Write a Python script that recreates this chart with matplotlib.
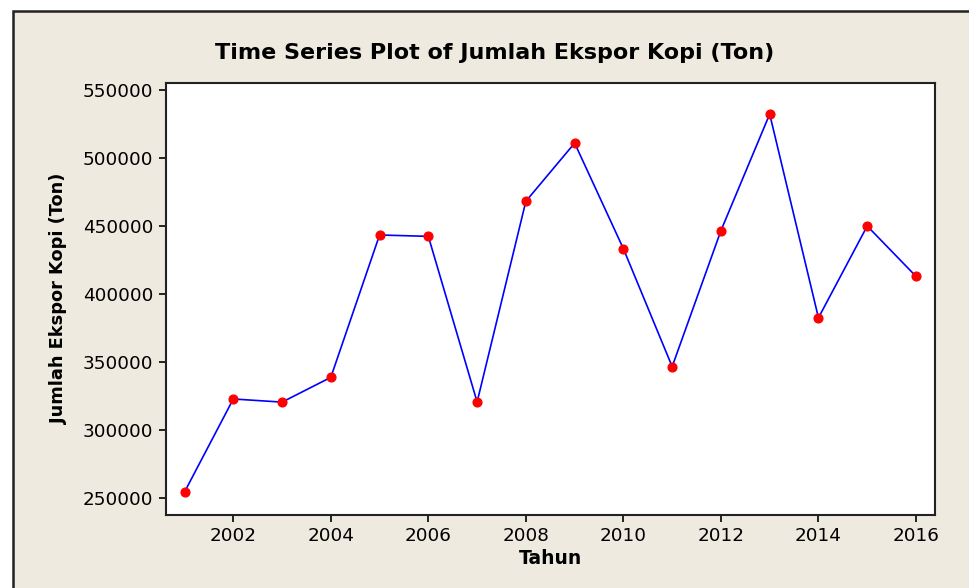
import matplotlib
matplotlib.use("Agg")
import matplotlib.pyplot as plt
from matplotlib.patches import Rectangle

# data
tahun = [2001, 2002, 2003, 2004, 2005, 2006, 2007, 2008,
         2009, 2010, 2011, 2012, 2013, 2014, 2015, 2016]
ekspor = [254400, 322800, 320500, 338700, 443400, 442400, 320600, 468200,
          511000, 433300, 346600, 446600, 532300, 382500, 450000, 413000]
yticks = [250000, 300000, 350000, 400000, 450000, 500000, 550000]
xticks = [2002, 2004, 2006, 2008, 2010, 2012, 2014, 2016]

bg = "#EEEAE0"

fig = plt.figure(figsize=(9.69, 5.88), dpi=100)
fig.patch.set_facecolor("white")
# beige panel with dark border on left/top (continues past right/bottom edge)
panel = Rectangle((13/969, -0.1), 1.2, 1 - 11/588 + 0.1,
                  transform=fig.transFigure, facecolor=bg,
                  edgecolor="#222222", linewidth=1.8, zorder=-10)
fig.add_artist(panel)

ax = fig.add_axes([166/969, 1 - 514.7/588, (935 - 166)/969, (514.7 - 82.7)/588])
ax.set_facecolor("white")

ax.plot(tahun, ekspor, color="#0000FF", linewidth=1.2, zorder=2)
ax.plot(tahun, ekspor, linestyle="none", marker="o", markersize=6.3,
        color="#FF0000", zorder=3)

ax.set_xlim(2000.62, 2016.39)
ax.set_ylim(237700, 555400)
ax.set_xticks(xticks)
ax.set_yticks(yticks)
ax.tick_params(direction="out", length=5, width=1.2, labelsize=13.2,
               colors="black", pad=4)
for s in ax.spines.values():
    s.set_linewidth(1.5)
    s.set_color("#222222")

ax.set_xlabel("Tahun", fontsize=13.5, fontweight="bold", labelpad=3)
ax.set_ylabel("Jumlah Ekspor Kopi (Ton)", fontsize=12.8, fontweight="bold", labelpad=11)
fig.text(495/969, 1 - 53/588, "Time Series Plot of Jumlah Ekspor Kopi (Ton)",
         ha="center", va="center", fontsize=16, fontweight="bold")

fig.savefig("out.png", dpi=100, facecolor=fig.get_facecolor())
